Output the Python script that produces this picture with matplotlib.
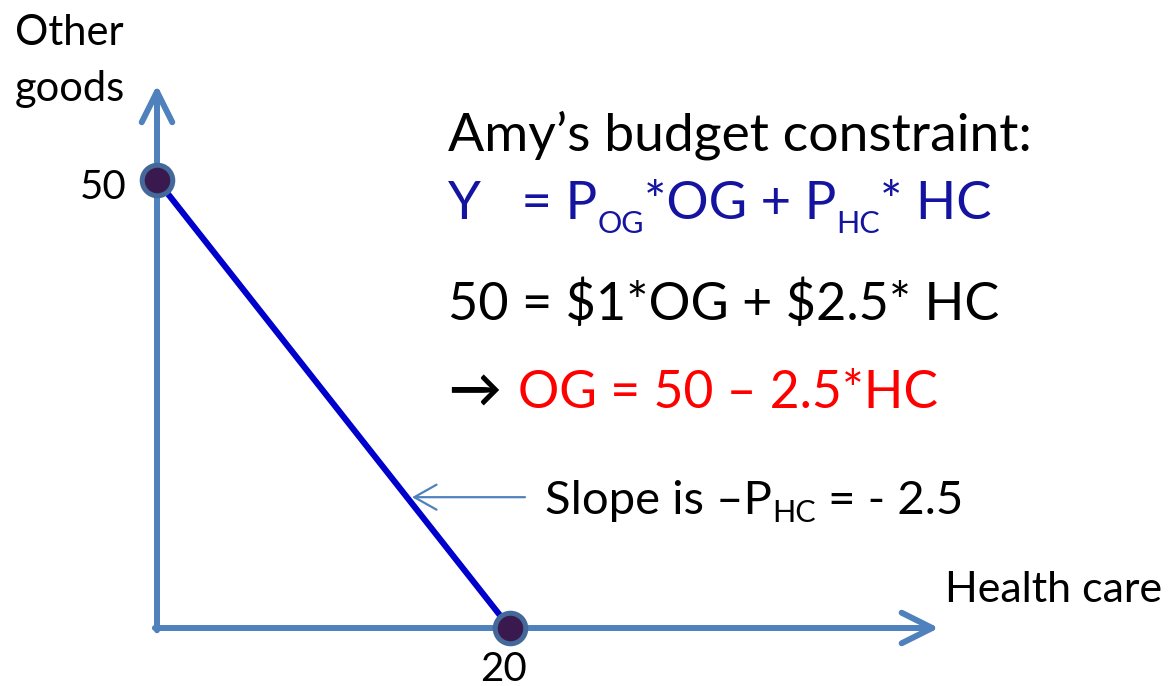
import matplotlib
matplotlib.use("Agg")
import matplotlib.pyplot as plt

plt.rcParams['font.family'] = ['Lato', 'DejaVu Sans']

# budget constraint: income 50, price of other goods 1, price of health care 2.5
income = 50
p_og = 1
p_hc = 2.5
hc_pts = [0, income / p_hc]          # 0, 20
og_pts = [income / p_og, 0]          # 50, 0
x_tick_labels = ["20"]
y_tick_labels = ["50"]

# axis arrow extents (data units)
x_axis_end = 44.3
y_axis_end = 60.6

axis_blue = "#4F81BD"
line_blue = "#0000CC"
text_blue = "#1414A0"

W, H = 1169, 686
fig = plt.figure(figsize=(W / 100, H / 100), dpi=100)
ax = fig.add_axes([0, 0, 1, 1])
# origin at pixel (157, 628); 20 units -> 353 px, 50 units -> 448 px
sx, sy = 353 / 20, 448 / 50
ax.set_xlim(-157 / sx, (W - 157) / sx)
ax.set_ylim(-(H - 628) / sy, 628 / sy)
ax.axis('off')

head = dict(arrowstyle='->,head_length=1.1,head_width=0.55', lw=4.3,
            color=axis_blue, shrinkA=0, shrinkB=0, mutation_scale=20,
            capstyle='round', joinstyle='round')
ax.annotate('', xy=(x_axis_end, 0), xytext=(-0.12, 0), arrowprops=head)
ax.annotate('', xy=(0, y_axis_end), xytext=(0, -0.25), arrowprops=head)

ax.plot(hc_pts, og_pts, color=line_blue, lw=4.4, solid_capstyle='butt', zorder=3)
ax.plot(hc_pts, og_pts, 'o', ms=22, mfc="#3A1A4E", mec="#43689A", mew=3.6, zorder=4)

# slope pointer
ax.annotate('', xy=(14.45, 14.6), xytext=(20.85, 14.6),
            arrowprops=dict(arrowstyle='->,head_length=0.8,head_width=0.45', lw=1.6,
                            color=axis_blue, shrinkA=0, shrinkB=0, mutation_scale=20))


def px(x, y):
    return x / W, 1 - y / H


def rich(x, y, parts, color='black'):
    # parts: (text, fontsize, drop in px below baseline)
    prev = None
    for s, size, dy in parts:
        if prev is None:
            prev = fig.text(*px(x, y + dy), s, fontsize=size, color=color,
                            va='baseline', parse_math=False)
        else:
            prev = ax.annotate(s, xy=(1, H - y - dy), xycoords=(prev, 'figure pixels'),
                               fontsize=size, color=color, va='baseline', ha='left',
                               annotation_clip=False, parse_math=False)


fs = 38
sub = 22
fig.text(*px(15, 45), "Other", fontsize=30, va='baseline')
fig.text(*px(15, 101), "goods", fontsize=30, va='baseline')
fig.text(*px(127, 188), y_tick_labels[0], fontsize=29, ha='right', va='center')
fig.text(*px(503, 681), x_tick_labels[0], fontsize=29, ha='center', va='baseline')
fig.text(*px(945, 602), "Health care", fontsize=31, va='baseline')

fig.text(*px(448, 150), "Amy\u2019s budget constraint:", fontsize=38.5, va='baseline')
rich(448, 219, [("Y   = P", fs, 0), ("OG", sub, 14), ("*OG + P", fs, 0),
                ("HC", sub, 14), ("* HC", fs, 0)], color=text_blue)
fig.text(*px(448, 320), "50 = $1*OG + $2.5* HC", fontsize=37.6, va='baseline',
         parse_math=False)
fig.text(*px(448, 408), "\u2192", fontsize=fs, va='baseline', fontweight='bold')
fig.text(*px(518, 408), "OG = 50 \u2013 2.5*HC", fontsize=37.2, va='baseline', color='red')
rich(545, 514, [("Slope is \u2013P", 34, 0), ("HC", sub, 8), (" = - 2.5", 34, 0)])

fig.savefig("out.png", dpi=100)
